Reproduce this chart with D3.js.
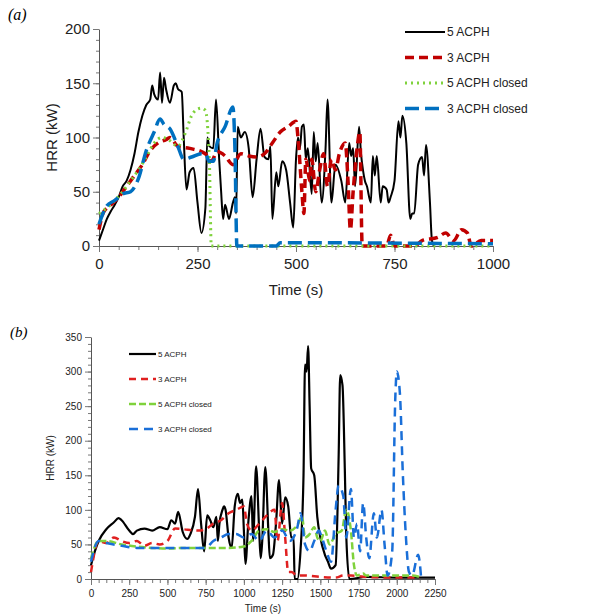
<!DOCTYPE html>
<html><head><meta charset="utf-8">
<script src="https://cdn.jsdelivr.net/npm/d3@7"></script>
<style>body{margin:0;background:#fff;font-family:"Liberation Sans",Arial,sans-serif}</style>
</head><body><svg id="c" width="589" height="615"></svg>
<script>
// Panel (a)
const a5 = [[0,5],[10,15],[20,25],[30,32],[40,38],[50,45],[60,55],[70,60],[80,70],[90,85],[100,105],[110,120],[120,130],[130,135],[135,148],[140,140],[150,135],[155,160],[160,132],[165,155],[170,145],[180,132],[190,148],[195,150],[200,145],[210,142],[215,100],[222,52],[230,68],[240,72],[250,40],[260,12],[270,35],[275,100],[280,92],[290,90],[297,135],[305,80],[310,50],[315,25],[320,38],[330,25],[340,40],[345,45],[348,30],[352,110],[360,100],[370,105],[380,90],[390,45],[400,80],[410,108],[420,82],[430,80],[435,92],[440,25],[450,68],[455,55],[465,78],[475,70],[485,40],[493,17],[500,80],[505,100],[510,90],[515,110],[520,112],[525,80],[530,90],[540,48],[545,105],[550,78],[555,95],[565,40],[575,90],[580,135],[590,40],[600,75],[615,60],[625,40],[635,95],[640,83],[645,90],[650,55],[660,110],[665,85],[670,70],[675,60],[680,55],[690,40],[695,83],[700,65],[705,83],[715,40],[720,55],[730,52],[735,40],[740,45],[750,60],[760,115],[765,100],[770,120],[780,95],[790,25],[795,30],[800,30],[810,75],[820,82],[825,65],[830,93],[840,40],[845,5],[850,0]];
const a3 = [[0,15],[10,30],[20,35],[30,38],[50,45],[70,55],[90,65],[110,75],[130,88],[150,95],[170,98],[180,100],[200,92],[230,90],[270,85],[285,78],[300,87],[320,83],[340,75],[360,85],[380,83],[400,82],[420,85],[440,95],[460,105],[480,110],[500,115],[505,100],[515,50],[520,30],[525,80],[535,60],[540,80],[550,50],[560,70],[570,85],[580,55],[590,80],[600,70],[610,85],[625,95],[632,60],[638,15],[645,50],[655,90],[662,105],[668,0],[730,0],[740,10],[750,0],[800,0],[820,5],[860,8],[880,12],[900,5],[920,15],[935,12],[945,0],[970,5],[1000,5]];
const a5c = [[0,30],[20,35],[40,42],[60,50],[80,60],[100,70],[120,82],[140,95],[160,100],[180,97],[200,92],[220,105],[235,120],[245,125],[260,127],[270,125],[280,80],[285,0],[1000,0]];
const a3c = [[0,20],[10,30],[20,37],[40,42],[60,48],[80,50],[100,62],[120,88],[140,105],[155,117],[165,112],[180,108],[200,92],[215,80],[235,82],[260,85],[270,85],[280,78],[290,78],[300,95],[320,110],[340,128],[345,90],[350,0],[450,0],[460,3],[500,3],[1000,2]];
// Panel (b)
const b5 = [[0,20],[25,40],[50,55],[100,72],[150,82],[180,88],[200,85],[250,70],[275,65],[300,70],[350,73],[400,70],[450,75],[500,72],[525,85],[550,80],[570,97],[600,68],[630,58],[650,65],[680,90],[700,130],[720,80],[740,40],[760,92],[780,85],[800,75],[820,90],[830,55],[840,80],[860,100],[870,105],[880,100],[900,60],[920,45],[940,105],[960,123],[975,110],[990,115],[1000,70],[1010,22],[1030,85],[1050,120],[1060,55],[1080,163],[1100,70],[1110,30],[1120,55],[1140,162],[1160,70],[1170,30],[1190,35],[1210,80],[1230,143],[1250,80],[1270,118],[1290,105],[1310,60],[1325,60],[1332,0],[1350,0],[1370,40],[1390,150],[1400,310],[1410,300],[1420,337],[1430,250],[1440,160],[1460,150],[1480,90],[1500,60],[1530,35],[1550,25],[1570,15],[1600,20],[1620,180],[1630,295],[1645,280],[1660,160],[1670,60],[1690,0],[1800,3],[2000,2],[2250,2]];
const b3 = [[0,10],[50,55],[100,52],[150,60],[200,55],[250,52],[300,55],[350,48],[400,52],[450,50],[500,55],[550,73],[600,72],[700,70],[750,72],[800,80],[850,85],[900,95],[950,100],[1000,105],[1020,80],[1050,70],[1100,80],[1150,92],[1200,100],[1220,55],[1250,110],[1270,60],[1290,10],[1310,10],[1350,5],[1400,5],[1500,3],[1600,2],[1650,5],[1700,5],[1800,3],[2000,2],[2150,2]];
const b5c = [[0,30],[50,55],[100,55],[200,50],[300,47],[400,45],[500,44],[600,45],[700,45],[800,45],[900,45],[1000,47],[1050,55],[1100,70],[1150,72],[1200,68],[1250,72],[1300,70],[1350,78],[1380,90],[1400,60],[1430,65],[1460,75],[1480,60],[1500,55],[1530,70],[1560,50],[1600,65],[1640,70],[1670,100],[1700,70],[1720,20],[1740,5],[1780,8],[1800,5],[2000,5],[2100,5],[2150,3]];
const b3c = [[0,25],[50,55],[100,52],[200,48],[300,45],[400,45],[500,45],[600,45],[700,45],[750,45],[800,55],[850,60],[900,65],[950,65],[1000,60],[1050,65],[1100,55],[1150,70],[1200,60],[1250,70],[1300,55],[1350,75],[1370,95],[1400,50],[1430,40],[1460,55],[1490,70],[1510,60],[1540,40],[1570,25],[1600,100],[1620,135],[1650,120],[1670,60],[1700,130],[1720,60],[1740,80],[1760,40],[1780,110],[1800,60],[1820,30],[1850,95],[1870,60],[1900,100],[1920,50],[1940,5],[1970,40],[1990,260],[2000,300],[2020,270],[2040,150],[2060,60],[2080,10],[2100,5],[2140,35],[2160,0]];

const labels = ['5 ACPH', '3 ACPH', '5 ACPH closed', '3 ACPH closed'];

const svg = d3.select('#c');

function panel(o) {
  const x = d3.scaleLinear().domain(o.xd).range([o.x0, o.x1]);
  const y = d3.scaleLinear().domain(o.yd).range([o.y0, o.y1]);
  const g = svg.append('g');
  // minor ticks
  g.append('g').attr('transform', `translate(0,${o.y0})`)
    .call(d3.axisBottom(x).tickValues(d3.range(o.xd[0], o.xd[1] + 1, o.xMinor)).tickSize(4).tickFormat(''))
    .call(s => s.select('.domain').remove());
  g.append('g').attr('transform', `translate(${o.x0},0)`)
    .call(d3.axisLeft(y).tickValues(d3.range(o.yd[0], o.yd[1] + 1, o.yMinor)).tickSize(3).tickFormat(''))
    .call(s => s.select('.domain').remove());
  g.append('g').attr('transform', `translate(0,${o.y0})`)
    .call(d3.axisBottom(x).tickValues(d3.range(o.xd[0], o.xd[1] + 1, o.xMajor)).tickSize(6).tickSizeOuter(0).tickFormat(d3.format('d')))
    .call(s => s.selectAll('text').attr('font-size', o.fs).attr('fill', '#222').attr('dy', o.fs * 0.9));
  g.append('g').attr('transform', `translate(${o.x0},0)`)
    .call(d3.axisLeft(y).tickValues(d3.range(o.yd[0], o.yd[1] + 1, o.yMajor)).tickSize(6).tickSizeOuter(0).tickFormat(d3.format('d')))
    .call(s => s.selectAll('text').attr('font-size', o.fs).attr('fill', '#222'));
  g.selectAll('.domain').attr('stroke', '#555');
  g.selectAll('.tick line').attr('stroke', '#777');

  const line = d3.line().x(d => x(d[0])).y(d => y(d[1])).curve(d3.curveMonotoneX);
  o.series.forEach((s, i) => {
    g.append('path').datum(s.data).attr('d', line).attr('fill', 'none')
      .attr('stroke', s.color).attr('stroke-width', s.w).attr('stroke-dasharray', s.dash)
      .attr('stroke-linejoin', 'round');
    const ly = o.legY + i * o.legDy;
    g.append('line').attr('x1', o.legX).attr('x2', o.legX + o.legW).attr('y1', ly).attr('y2', ly)
      .attr('stroke', s.color).attr('stroke-width', s.w).attr('stroke-dasharray', s.dash);
    g.append('text').attr('x', o.legX + o.legW + 2).attr('y', ly).attr('dy', '0.35em')
      .attr('font-size', o.legFs).attr('fill', '#222').text(labels[i]);
  });
  g.append('text').attr('x', (o.x0 + o.x1) / 2).attr('y', o.xtY).attr('text-anchor', 'middle')
    .attr('font-size', o.tfs).attr('fill', '#222').text('Time (s)');
  g.append('text').attr('transform', `translate(${o.ytX},${(o.y0 + o.y1) / 2}) rotate(-90)`)
    .attr('text-anchor', 'middle').attr('font-size', o.tfs).attr('fill', '#222').text('HRR (kW)');
  g.append('text').attr('x', o.tagX).attr('y', o.tagY).attr('font-family', '"Liberation Serif",serif')
    .attr('font-style', 'italic').attr('font-size', o.tagFs).text(o.tag);
}

panel({
  xd: [0, 1000], yd: [0, 200], x0: 99, x1: 493, y0: 246, y1: 29,
  xMajor: 250, xMinor: 50, yMajor: 50, yMinor: 10, fs: 15, tfs: 15,
  series: [
    {data: a5, color: '#000', w: 2, dash: null},
    {data: a3, color: '#c00000', w: 3.5, dash: '9,5'},
    {data: a5c, color: '#7fd23c', w: 3, dash: '2,4'},
    {data: a3c, color: '#0070c0', w: 3.5, dash: '14,6'}
  ],
  legX: 405, legY: 32, legDy: 25.5, legW: 40, legFs: 12,
  xtY: 295, ytX: 57, tag: '(a)', tagX: 8, tagY: 20, tagFs: 16
});

panel({
  xd: [0, 2250], yd: [0, 350], x0: 91, x1: 435, y0: 579, y1: 337,
  xMajor: 250, xMinor: 50, yMajor: 50, yMinor: 10, fs: 10, tfs: 10,
  series: [
    {data: b5, color: '#000', w: 2.2, dash: null},
    {data: b3, color: '#e02020', w: 2.5, dash: '7,5'},
    {data: b5c, color: '#7fd23c', w: 2.5, dash: '7,3'},
    {data: b3c, color: '#1a6fd8', w: 2.5, dash: '9,6'}
  ],
  legX: 129, legY: 354, legDy: 25, legW: 27, legFs: 8,
  xtY: 612, ytX: 54, tag: '(b)', tagX: 10, tagY: 337, tagFs: 15
});
</script></body></html>
